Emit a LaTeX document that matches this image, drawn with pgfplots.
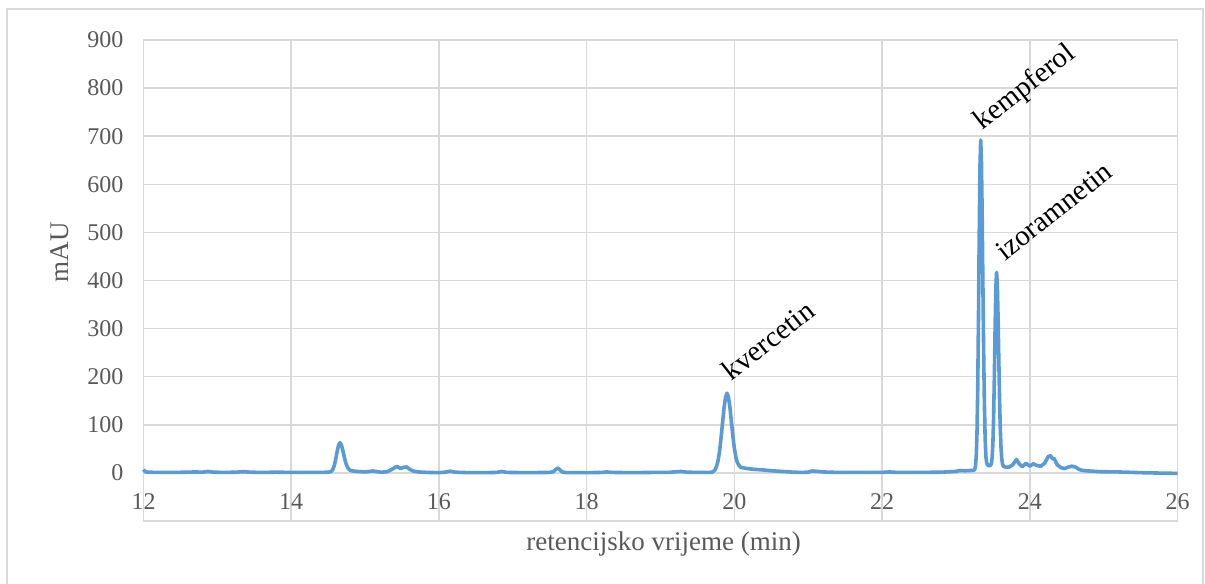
\documentclass[border=0pt]{standalone}
\usepackage{fontspec}
\setmainfont{Liberation Serif}
\usepackage{pgfplots}
\pgfplotsset{compat=1.18}
\definecolor{gridgray}{HTML}{D9D9D9}
\definecolor{txtgray}{HTML}{595959}
\definecolor{lineblue}{HTML}{5B9BD5}
\begin{document}
\begin{tikzpicture}[x=1bp,y=1bp]
\useasboundingbox (-71.75,-31) rectangle (530.75,260.5);
\draw[gridgray, line width=0.75bp] (-68.25,256) rectangle (529.75,-40);
\begin{axis}[
  at={(0,0)}, anchor=south west,
  scale only axis, width=517bp, height=240.5bp,
  xmin=12, xmax=26, ymin=-100, ymax=900,
  xtick={12,14,...,26}, ytick={0,100,...,900},
  grid=major,
  major grid style={gridgray, line width=0.75bp},
  axis line style={gridgray, line width=0.75bp},
  tick style={draw=none},
  /pgf/number format/assume math mode=true,
  ticklabel style={font=\fontsize{12bp}{14bp}\selectfont, text=txtgray},
  xticklabel style={anchor=center, yshift=9.5bp},
  yticklabel style={xshift=-6.5bp},
  xlabel={retencijsko vrijeme (min)},
  ylabel={mAU},
  label style={font=\fontsize{13.5bp}{16bp}\selectfont, text=txtgray},
  xlabel style={at={(axis description cs:0.503,-0.0603)}, anchor=base},
  ylabel style={at={(axis description cs:-0.073,0.559)}, anchor=base},
  clip=false,
]
\addplot[lineblue, line width=1.8bp, line join=round] coordinates {
(12.00,7) (12.02,3) (12.05,1.5) (12.2,1) (12.4,1) (12.6,1.5) (12.7,2) (12.8,1.5)
(12.87,3) (12.95,1.5) (13.1,1) (13.25,1.5) (13.35,2.5) (13.45,1.5) (13.6,1)
(13.8,1.5) (14.0,1) (14.2,1) (14.4,1) (14.5,1.5)
(14.54,2.8) (14.56,6.3) (14.58,13.8) (14.60,26.5) (14.62,43) (14.64,57) (14.66,63)
(14.68,58) (14.70,46) (14.72,32) (14.74,20) (14.76,12.4) (14.78,7.5) (14.80,5.2)
(14.84,4) (14.90,3) (15.00,2) (15.06,3) (15.11,4) (15.16,2.5) (15.22,1.5)
(15.30,2.5) (15.36,7) (15.41,12) (15.44,13) (15.48,9) (15.52,11.5) (15.56,12.5)
(15.60,8) (15.65,4) (15.72,2) (15.85,1) (16.0,0.5) (16.08,1.5) (16.15,3.5)
(16.22,1.5) (16.4,0.5) (16.6,0.5) (16.78,1) (16.85,3) (16.92,1) (17.2,0.5)
(17.5,1) (17.55,2.5) (17.58,7) (17.61,10) (17.64,6) (17.67,2) (17.72,0.5)
(18.0,0.5) (18.2,1) (18.27,2) (18.35,1) (18.6,0.5) (18.9,1) (19.1,1)
(19.22,2.5) (19.28,3) (19.36,1.5) (19.5,1) (19.65,1) (19.70,1.5)
(19.72,3.4) (19.74,7) (19.76,14) (19.78,26) (19.80,46) (19.82,73) (19.84,104)
(19.86,135) (19.88,157) (19.90,165.6) (19.92,157.5) (19.94,136) (19.96,106)
(19.98,76) (20.00,51) (20.02,33) (20.04,22) (20.06,16) (20.08,12.5) (20.10,11)
(20.14,10) (20.2,8.5) (20.3,7) (20.4,6) (20.5,4.5) (20.6,3.5) (20.7,2.5)
(20.8,1.5) (20.9,1) (21.0,1.5) (21.05,4) (21.1,3.5) (21.2,2) (21.4,1) (21.7,1)
(22.0,1) (22.1,2) (22.2,1) (22.5,1) (22.8,1.5) (23.0,3) (23.05,5) (23.12,4.5)
(23.2,5) (23.245,5.5) (23.255,7.7) (23.265,15) (23.275,35) (23.285,83)
(23.295,176) (23.305,320) (23.315,491) (23.325,635) (23.335,692) (23.345,649)
(23.355,537) (23.365,392) (23.375,252) (23.385,144) (23.395,74) (23.405,35)
(23.415,22) (23.425,17) (23.44,15) (23.46,15) (23.47,16) (23.48,20) (23.49,32)
(23.50,60) (23.51,115) (23.52,199) (23.53,300) (23.54,384) (23.55,417)
(23.56,392) (23.57,326) (23.58,239) (23.59,157) (23.60,94) (23.61,53)
(23.62,30) (23.63,19) (23.64,14) (23.67,12) (23.72,12) (23.77,17) (23.82,28)
(23.86,18) (23.90,13) (23.95,20) (24.00,14) (24.05,19) (24.10,15) (24.15,14)
(24.20,20) (24.25,34) (24.28,36) (24.31,29) (24.33,30) (24.37,17) (24.42,11)
(24.47,9) (24.52,12) (24.57,14) (24.62,12) (24.67,7) (24.72,5) (24.8,4)
(24.95,2.5) (25.2,2) (25.5,0.5) (25.8,-0.5) (26.0,-1)
};
\node[rotate=38, anchor=base west, inner sep=0pt, font=\fontsize{14.5bp}{17bp}\selectfont] at (axis cs:19.96,190) {kvercetin};
\node[rotate=38, anchor=base west, inner sep=0pt, font=\fontsize{14.5bp}{17bp}\selectfont] at (axis cs:23.36,712) {kempferol};
\node[rotate=38, anchor=base west, inner sep=0pt, font=\fontsize{14.5bp}{17bp}\selectfont] at (axis cs:23.66,440) {izoramnetin};
\end{axis}
\end{tikzpicture}
\end{document}
